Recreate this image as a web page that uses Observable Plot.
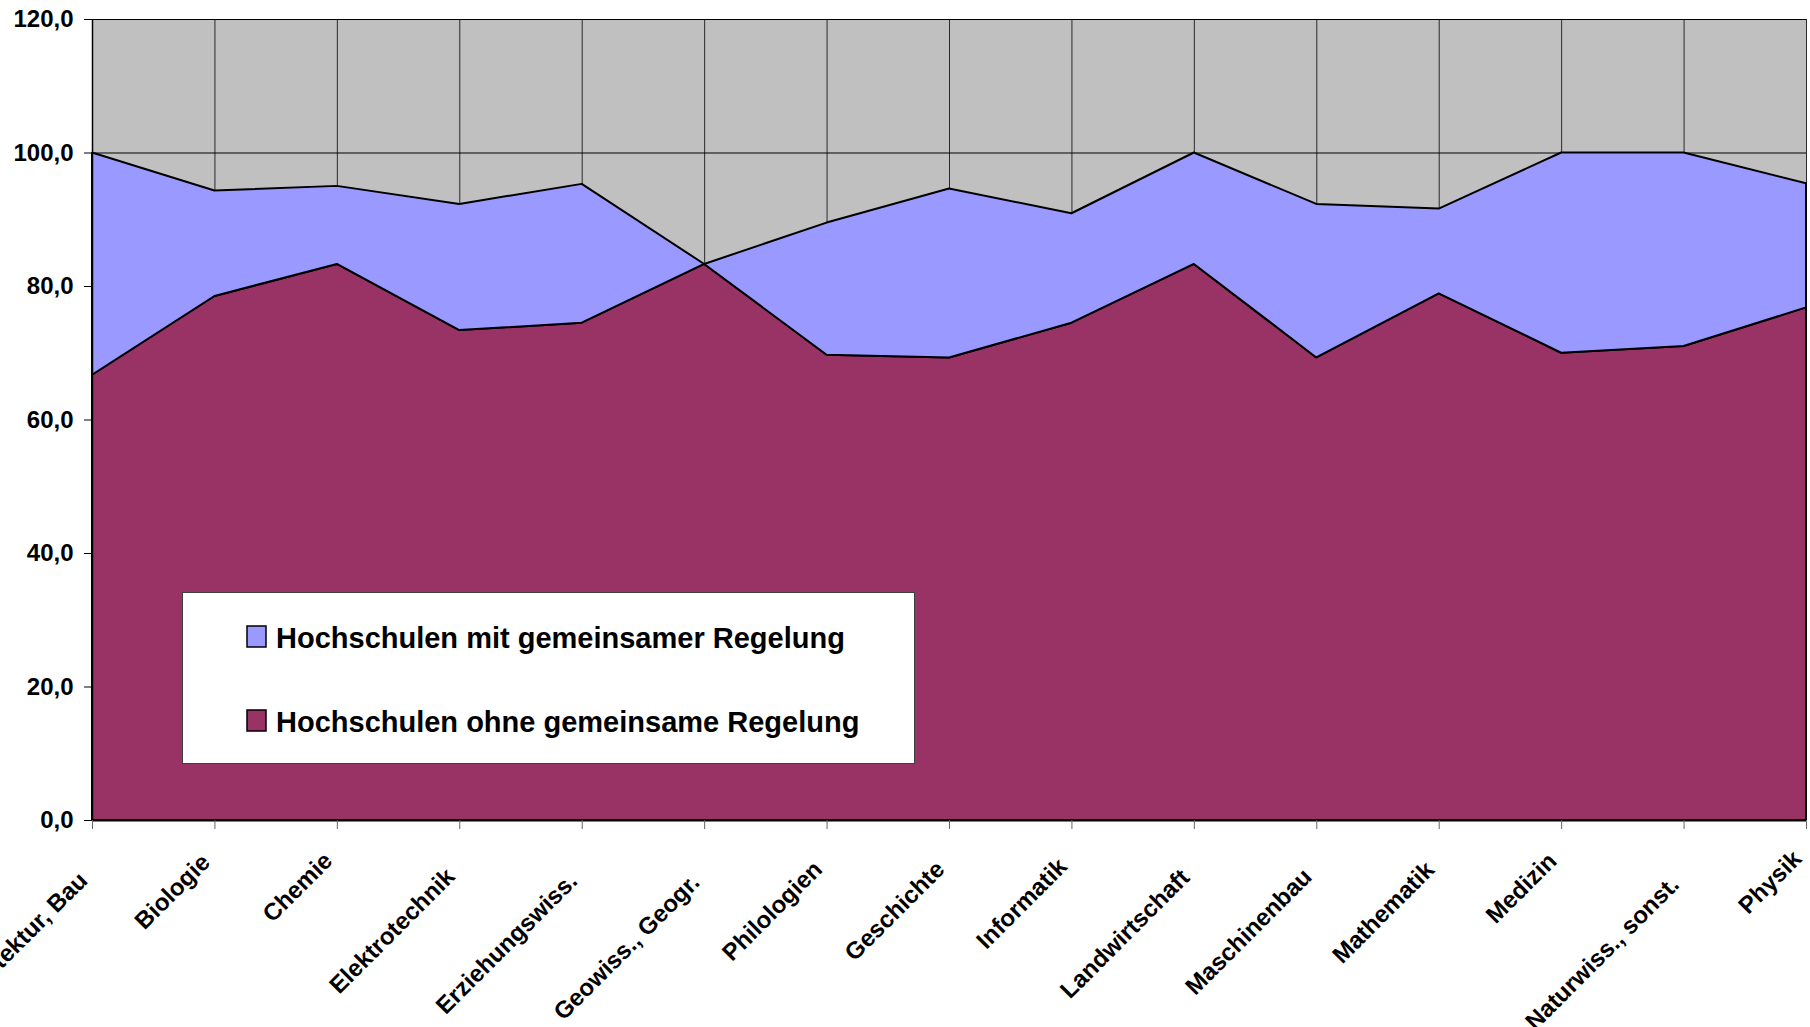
<!DOCTYPE html>
<html>
<head>
<meta charset="utf-8">
<script src="https://cdn.jsdelivr.net/npm/d3@7"></script>
<script src="https://cdn.jsdelivr.net/npm/@observablehq/plot@0.6"></script>
<style>
  html, body { margin: 0; padding: 0; background: #fff; overflow: hidden; }
  #wrap { position: relative; width: 1810px; height: 1027px; }
  #legend { position: absolute; left: 182px; top: 592px; width: 733px; height: 172px;
            background: #fff; border: 1px solid #404040; box-sizing: border-box; }
</style>
</head>
<body>
<div id="wrap"></div>
<script>
const cats = ["Architektur, Bau","Biologie","Chemie","Elektrotechnik","Erziehungswiss.","Geowiss., Geogr.","Philologien","Geschichte","Informatik","Landwirtschaft","Maschinenbau","Mathematik","Medizin","Naturwiss., sonst.","Physik"];
const ohne = [66.7, 78.5, 83.3, 73.4, 74.5, 83.3, 69.7, 69.3, 74.5, 83.3, 69.3, 78.9, 70.0, 71.0, 76.8];
const mit  = [33.3, 15.8, 11.7, 18.9, 20.8, 0.0, 19.8, 25.3, 16.4, 16.7, 23.0, 12.7, 30.0, 29.0, 18.6];
const yTicks = [0, 20, 40, 60, 80, 100, 120];
const seriesNames = ["Hochschulen ohne gemeinsame Regelung", "Hochschulen mit gemeinsamer Regelung"];
const seriesColors = ["#993366", "#9999ff"];

const FONT = "'Liberation Sans', Arial, Helvetica, sans-serif";
const idx = cats.map((_, i) => i);

const rows = [
  ...idx.map(i => ({i, series: seriesNames[0], value: ohne[i]})),
  ...idx.map(i => ({i, series: seriesNames[1], value: mit[i]}))
];

// measure label lengths to mimic Excel's rotated label placement
const ctx = document.createElement("canvas").getContext("2d");
ctx.font = `bold 24px ${FONT}`;
const labelOffset = s => 37 + 0.2 * (ctx.measureText(s).width - 90);

const labelMarks = cats.map((c, i) => Plot.text([i], {
  x: d => d, text: () => c, frameAnchor: "bottom",
  textAnchor: "end", lineAnchor: "middle", rotate: -45,
  dx: -9, dy: labelOffset(c), fontSize: 24, fontWeight: "bold", fill: "black"
}));

const chart = Plot.plot({
  width: 1810, height: 1027,
  marginLeft: 92, marginRight: 4, marginTop: 19, marginBottom: 207,
  style: { fontFamily: FONT, color: "black", background: "transparent", overflow: "visible" },
  x: { type: "linear", domain: [0, cats.length - 1], label: null },
  y: { domain: [0, 120], label: null },
  color: { domain: seriesNames, range: seriesColors },
  marks: [
    Plot.frame({ fill: "#c0c0c0", stroke: null }),
    Plot.gridX(idx, { stroke: "#2a2a2a", strokeOpacity: 1, strokeWidth: 1 }),
    Plot.gridY(yTicks, { stroke: "#000", strokeOpacity: 1, strokeWidth: 1 }),
    Plot.areaY(rows, { x: "i", y: "value", z: "series", fill: "series", stroke: "black", strokeWidth: 2, strokeLinejoin: "miter" }),
    Plot.ruleX([0], { stroke: "black", strokeWidth: 1.5 }),
    Plot.ruleY([0], { stroke: "black", strokeWidth: 2 }),
    Plot.axisY(yTicks, { tickSize: 8, tickPadding: 11, tickFormat: d => d.toFixed(1).replace(".", ","), fontSize: 24, fontWeight: "bold", stroke: "black" }),
    Plot.axisX(idx, { tickSize: 9, tickFormat: () => "", stroke: "#666" }),
    ...labelMarks
  ]
});

const wrap = document.getElementById("wrap");
wrap.appendChild(chart);

// legend (inside plot area, like the original)
const legend = document.createElement("div");
legend.id = "legend";
const ns = "http://www.w3.org/2000/svg";
const lsvg = document.createElementNS(ns, "svg");
lsvg.setAttribute("width", 731); lsvg.setAttribute("height", 170);
lsvg.style.display = "block";
const legendOrder = [1, 0];
legendOrder.forEach((s, r) => {
  const top = r === 0 ? 33 : 117;
  const rect = document.createElementNS(ns, "rect");
  rect.setAttribute("x", 64); rect.setAttribute("y", top);
  rect.setAttribute("width", 19); rect.setAttribute("height", 21);
  rect.setAttribute("fill", seriesColors[s]);
  rect.setAttribute("stroke", "black"); rect.setAttribute("stroke-width", 1.5);
  lsvg.appendChild(rect);
  const t = document.createElementNS(ns, "text");
  t.setAttribute("x", 93); t.setAttribute("y", top + 22);
  t.setAttribute("font-family", FONT); t.setAttribute("font-size", 29);
  t.setAttribute("font-weight", "bold"); t.setAttribute("fill", "black");
  t.textContent = seriesNames[s];
  lsvg.appendChild(t);
});
legend.appendChild(lsvg);
wrap.appendChild(legend);
</script>
</body>
</html>
